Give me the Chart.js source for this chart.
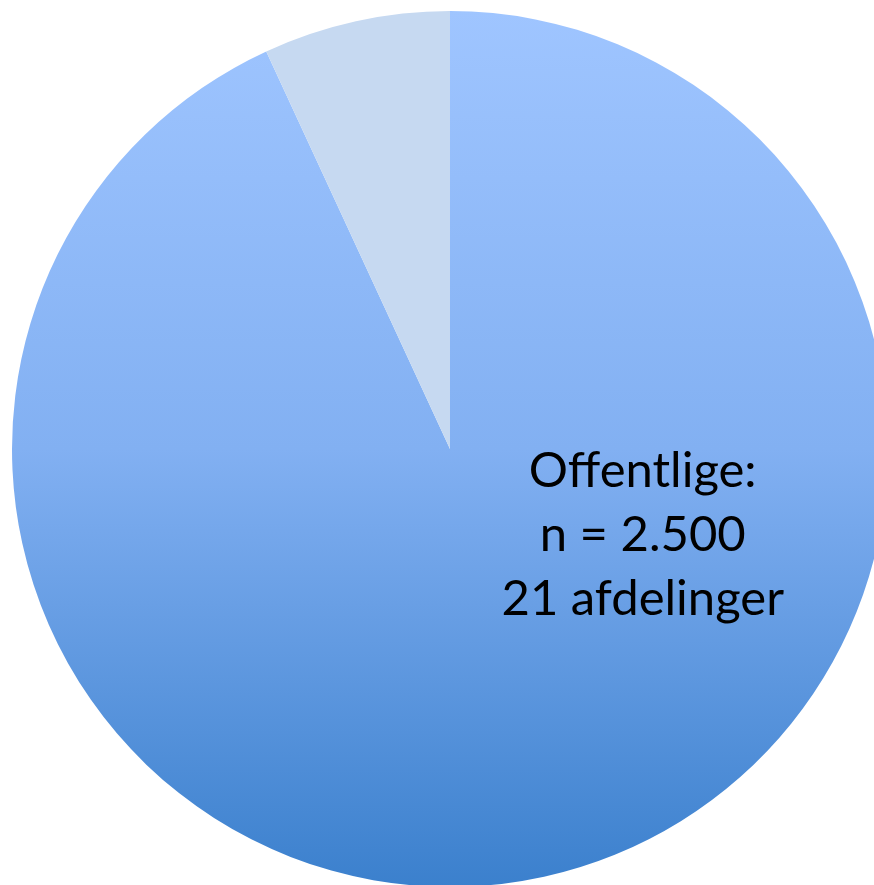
<!DOCTYPE html>
<html>
<head>
<meta charset="utf-8">
<script src="https://cdn.jsdelivr.net/npm/chart.js@4/dist/chart.umd.min.js"></script>
<style>
  html, body { margin: 0; padding: 0; background: #fff; overflow: hidden; }
  #wrap { width: 900px; height: 900px; }
</style>
</head>
<body>
<div id="wrap"><canvas id="pie" width="900" height="900"></canvas></div>
<script>
// data
const categories = ['Offentlige', 'Private'];
const values = [2500, 185];
const labelLines = ['Offentlige:', 'n = 2.500', '21 afdelinger'];

// big slice gets a vertical gradient, small slice a flat pale blue
function sliceFill(ctx) {
  if (ctx.dataIndex === 1) return '#c6d9f1';
  const area = ctx.chart.chartArea;
  if (!area) return '#8db6f5';
  const g = ctx.chart.ctx.createLinearGradient(0, area.top, 0, area.bottom);
  g.addColorStop(0, '#9fc5ff');
  g.addColorStop(0.5, '#82b0f2');
  g.addColorStop(1, '#3b80cd');
  return g;
}

const sliceLabel = {
  id: 'sliceLabel',
  afterDatasetsDraw(chart) {
    const arc = chart.getDatasetMeta(0).data[0];
    if (!arc) return;
    const c = chart.ctx;
    const x = arc.x + arc.outerRadius * 0.44;
    const y0 = arc.y + 38;
    c.save();
    c.fillStyle = '#000';
    c.font = '49px Lato, "Open Sans", sans-serif';
    c.textAlign = 'center';
    c.textBaseline = 'alphabetic';
    labelLines.forEach((t, i) => c.fillText(t, x, y0 + i * 64));
    c.restore();
  }
};

new Chart(document.getElementById('pie'), {
  type: 'pie',
  data: {
    labels: categories,
    datasets: [{
      data: values,
      backgroundColor: sliceFill,
      borderWidth: 0
    }]
  },
  options: {
    responsive: false,
    animation: false,
    layout: { padding: { left: 12, right: 12, top: 11, bottom: 13 } },
    plugins: { legend: { display: false }, tooltip: { enabled: false } }
  },
  plugins: [sliceLabel]
});
</script>
</body>
</html>
